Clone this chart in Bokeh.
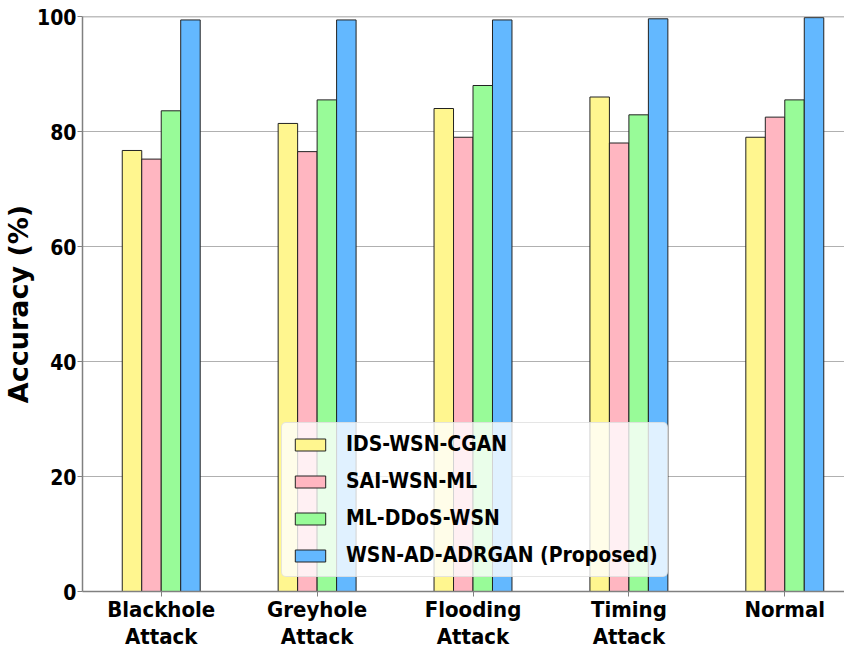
from bokeh.plotting import figure
from bokeh.models import ColumnDataSource, FixedTicker, Legend, LegendItem, Range1d, Span
from bokeh.transform import dodge
from bokeh.embed import file_html
from bokeh.resources import INLINE

categories = ["Blackhole\nAttack", "Greyhole\nAttack", "Flooding\nAttack", "Timing\nAttack", "Normal"]
ids_wsn_cgan = [76.7, 81.4, 84.0, 86.0, 79.0]
sai_wsn_ml = [75.2, 76.5, 79.0, 78.0, 82.5]
ml_ddos_wsn = [83.6, 85.5, 88.0, 82.9, 85.5]
wsn_ad_adrgan = [99.4, 99.4, 99.4, 99.6, 99.8]
series_names = ["IDS-WSN-CGAN", "SAI-WSN-ML", "ML-DDoS-WSN", "WSN-AD-ADRGAN (Proposed)"]
colors = ["#FFF68F", "#FFB6C1", "#98FB98", "#63B8FF"]
y_ticks = [0, 20, 40, 60, 80, 100]

COND = "DejaVu Sans Condensed"

src = ColumnDataSource(dict(x=list(range(len(categories))), a=ids_wsn_cgan, b=sai_wsn_ml,
                            c=ml_ddos_wsn, d=wsn_ad_adrgan))

p = figure(width=844, height=652, output_backend="svg", toolbar_location=None,
           x_range=Range1d(-0.505, 4.383), y_range=Range1d(0, 100),
           min_border_left=79, min_border_top=16, min_border_right=0, min_border_bottom=60)
p.outline_line_color = None

w = 0.125
offsets = [-1.5 * w, -0.5 * w, 0.5 * w, 1.5 * w]
renderers = []
for key, off, col in zip(["a", "b", "c", "d"], offsets, colors):
    r = p.vbar(x=dodge("x", off, range=p.x_range), top=key, width=w, source=src,
               fill_color=col, line_color="#222222", line_width=1)
    renderers.append(r)

p.xgrid.visible = False
p.ygrid.grid_line_color = "#b0b0b0"
p.ygrid.grid_line_width = 1

p.xaxis.ticker = FixedTicker(ticks=list(range(len(categories))))
p.xaxis.major_label_overrides = {i: c for i, c in enumerate(categories)}
p.yaxis.ticker = FixedTicker(ticks=y_ticks)
p.xaxis.minor_tick_line_color = None
p.yaxis.minor_tick_line_color = None

for ax in (p.xaxis[0], p.yaxis[0]):
    ax.axis_line_color = "#808080"
    ax.axis_line_width = 1.5
    ax.major_tick_line_color = "#808080"
    ax.major_tick_out = 5
    ax.major_tick_in = 0
    ax.major_label_text_font = COND
    ax.major_label_text_font_style = "bold"
    ax.major_label_text_color = "black"

p.xaxis.major_label_text_font_size = "22px"
p.xaxis.major_label_text_line_height = 1.1
p.xaxis.major_label_standoff = 0
p.yaxis.major_label_text_font_size = "21px"
p.yaxis.major_label_standoff = 1
p.yaxis.axis_label = "Accuracy (%)"
p.yaxis.axis_label_text_font = "DejaVu Sans"
p.yaxis.axis_label_text_font_style = "bold"
p.yaxis.axis_label_text_font_size = "27px"
p.yaxis.axis_label_text_color = "black"
p.yaxis.axis_label_standoff = 0

# top spine
p.add_layout(Span(location=100, dimension="width", line_color="#808080", line_width=1.5))

legend = Legend(items=[LegendItem(label=n, renderers=[r]) for n, r in zip(series_names, renderers)],
                location=(199, 14))
legend.label_text_font = COND
legend.label_text_font_style = "bold"
legend.label_text_font_size = "21px"
legend.label_text_color = "black"
legend.label_standoff = 17
legend.glyph_width = 38
legend.glyph_height = 15
legend.spacing = 13
legend.padding = 9
legend.margin = 0
legend.border_line_color = "#cccccc"
legend.border_radius = 5
legend.background_fill_alpha = 0.8
p.add_layout(legend, "center")

open("out.html", "w").write(file_html(p, INLINE))
